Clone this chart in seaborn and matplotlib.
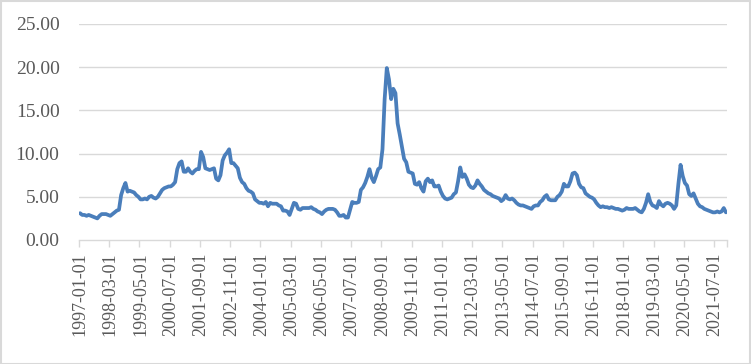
import matplotlib
matplotlib.use("Agg")
import matplotlib.pyplot as plt
from matplotlib.patches import Rectangle
import seaborn as sns
import pandas as pd

# Monthly values, one list per year (Jan..Dec)
v1997 = [3.1, 2.9, 2.9, 2.8, 2.9, 2.8, 2.7, 2.6, 2.5, 2.8, 3.0, 3.0]
v1998 = [3.0, 2.9, 2.8, 3.0, 3.2, 3.4, 3.5, 5.2, 6.0, 6.6, 5.6, 5.7]
v1999 = [5.6, 5.5, 5.2, 5.0, 4.7, 4.7, 4.8, 4.7, 5.0, 5.1, 4.9, 4.8]
v2000 = [5.0, 5.4, 5.8, 6.0, 6.1, 6.2, 6.2, 6.4, 6.7, 8.2, 8.9, 9.1]
v2001 = [7.9, 7.9, 8.3, 7.9, 7.7, 8.0, 8.2, 8.2, 10.2, 9.6, 8.3, 8.2]
v2002 = [8.1, 8.2, 8.3, 7.1, 6.9, 7.5, 9.2, 9.8, 10.1, 10.5, 8.9, 8.9]
v2003 = [8.6, 8.3, 7.2, 6.7, 6.5, 6.0, 5.7, 5.6, 5.4, 4.7, 4.5, 4.3]
v2004 = [4.3, 4.2, 4.4, 3.9, 4.3, 4.2, 4.2, 4.2, 4.0, 3.9, 3.4, 3.4]
v2005 = [3.3, 2.9, 3.6, 4.3, 4.2, 3.6, 3.5, 3.7, 3.7, 3.7, 3.7, 3.8]
v2006 = [3.6, 3.5, 3.3, 3.2, 3.0, 3.3, 3.5, 3.6, 3.6, 3.6, 3.5, 3.2]
v2007 = [2.8, 2.8, 2.9, 2.6, 2.6, 3.5, 4.4, 4.3, 4.3, 4.4, 5.8, 6.1]
v2008 = [6.6, 7.3, 8.2, 7.2, 6.7, 7.4, 8.2, 8.4, 10.5, 16.3, 19.9, 18.6]
v2009 = [16.3, 17.5, 17.0, 13.5, 12.2, 10.8, 9.4, 9.0, 7.9, 7.8, 7.7, 6.5]
v2010 = [6.4, 6.7, 6.0, 5.6, 6.8, 7.1, 6.7, 6.9, 6.2, 6.2, 6.3, 5.6]
v2011 = [5.1, 4.8, 4.7, 4.8, 4.9, 5.3, 5.5, 6.8, 8.4, 7.3, 7.6, 7.1]
v2012 = [6.4, 6.1, 6.0, 6.3, 6.9, 6.5, 6.2, 5.8, 5.6, 5.4, 5.3, 5.1]
v2013 = [5.0, 4.9, 4.8, 4.5, 4.7, 5.2, 4.8, 4.7, 4.8, 4.6, 4.3, 4.1]
v2014 = [4.0, 4.0, 3.9, 3.8, 3.7, 3.6, 3.9, 4.0, 4.0, 4.4, 4.6, 5.0]
v2015 = [5.2, 4.7, 4.6, 4.6, 4.6, 5.0, 5.2, 5.6, 6.5, 6.2, 6.2, 6.8]
v2016 = [7.7, 7.8, 7.5, 6.5, 6.1, 6.0, 5.4, 5.2, 5.0, 4.9, 4.7, 4.3]
v2017 = [4.0, 3.8, 3.9, 3.8, 3.8, 3.7, 3.8, 3.7, 3.6, 3.6, 3.5, 3.4]
v2018 = [3.5, 3.7, 3.6, 3.6, 3.6, 3.7, 3.5, 3.3, 3.2, 3.6, 4.3, 5.3]
v2019 = [4.4, 4.0, 3.9, 3.7, 4.5, 4.1, 3.9, 4.2, 4.3, 4.2, 4.0, 3.6]
v2020 = [4.0, 6.5, 8.7, 7.4, 6.6, 6.3, 5.3, 5.1, 5.4, 4.8, 4.2, 3.9]
v2021 = [3.8, 3.6, 3.5, 3.4, 3.3, 3.2, 3.2, 3.3, 3.2, 3.3, 3.7, 3.2]

years = list(range(1997, 2022))
yearly = [v1997, v1998, v1999, v2000, v2001, v2002, v2003, v2004, v2005,
          v2006, v2007, v2008, v2009, v2010, v2011, v2012, v2013, v2014,
          v2015, v2016, v2017, v2018, v2019, v2020, v2021]

dates = [f"{y}-{m:02d}-01" for y in years for m in range(1, 13)]
values = [v for yr in yearly for v in yr]

tick_labels = ["1997-01-01", "1998-03-01", "1999-05-01", "2000-07-01",
               "2001-09-01", "2002-11-01", "2004-01-01", "2005-03-01",
               "2006-05-01", "2007-07-01", "2008-09-01", "2009-11-01",
               "2011-01-01", "2012-03-01", "2013-05-01", "2014-07-01",
               "2015-09-01", "2016-11-01", "2018-01-01", "2019-03-01",
               "2020-05-01", "2021-07-01"]
y_ticks = [0, 5, 10, 15, 20, 25]

df = pd.DataFrame({"date": dates, "value": values})
df["idx"] = range(len(df))

sns.set_theme(style="white")
plt.rcParams["font.family"] = ["Liberation Serif", "DejaVu Serif"]

W, H = 751, 364
fig = plt.figure(figsize=(W / 100, H / 100), dpi=100)
ax = fig.add_axes([79 / W, 1 - 240 / H, 648 / W, 216 / H])

grid_c = "#d9d9d9"
for yv in y_ticks[1:]:
    ax.axhline(yv, color=grid_c, lw=1.0, zorder=0)

sns.lineplot(data=df, x="idx", y="value", ax=ax, color="#4a7ebb",
             linewidth=2.7, zorder=3)

ax.set_xlim(-0.5, len(df) - 0.5)
ax.set_ylim(0, 25)
ax.set_xlabel("")
ax.set_ylabel("")

for s in ["top", "right", "left"]:
    ax.spines[s].set_visible(False)
ax.spines["bottom"].set_color(grid_c)
ax.spines["bottom"].set_linewidth(1.0)

ax.set_yticks(y_ticks)
ax.set_yticklabels([f"{t:.2f}" for t in y_ticks], fontsize=14, color="#595959")
ax.tick_params(axis="y", length=0, pad=14)

pos = [dates.index(t) for t in tick_labels]
ax.set_xticks(pos)
ax.set_xticklabels(tick_labels, rotation=90, fontsize=13, color="#595959")
ax.set_xticks([p - 0.5 for p in pos] + [len(df) - 0.5], minor=True)
ax.tick_params(axis="x", which="major", length=0, pad=9)
ax.tick_params(axis="x", which="minor", length=5, color=grid_c, width=1.0,
               bottom=True)

fig.patches.append(Rectangle((0.5 / W, 0.5 / H), 1 - 1.5 / W, 1 - 1.5 / H,
                             transform=fig.transFigure, fill=False,
                             edgecolor=grid_c, lw=1.5))

fig.savefig("out.png", dpi=100)
